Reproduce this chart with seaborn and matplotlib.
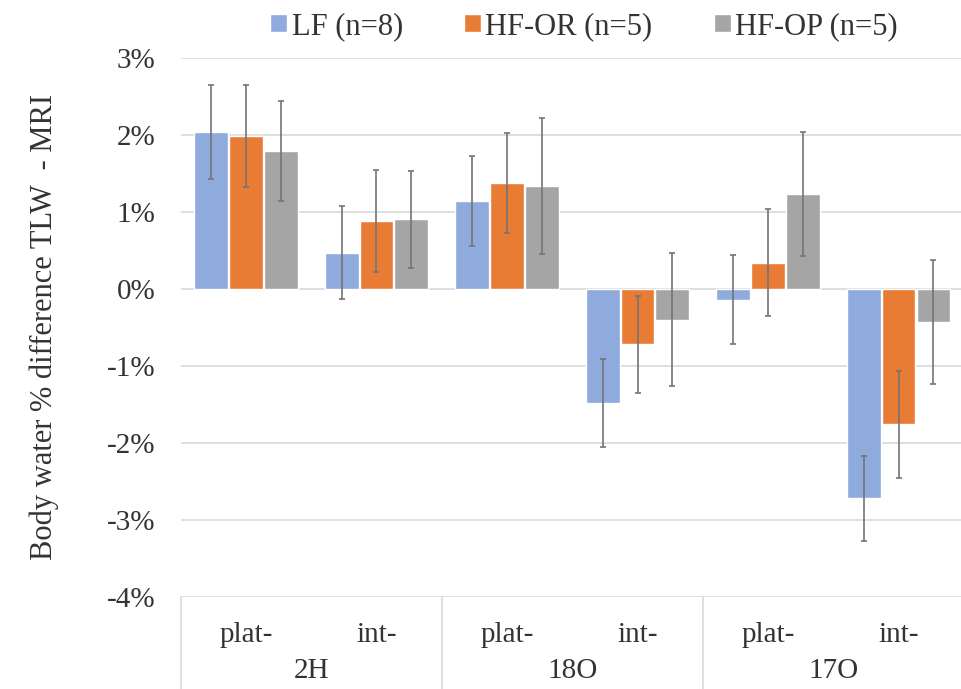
import numpy as np
import pandas as pd
import matplotlib.pyplot as plt
import seaborn as sns

# categories
isotopes = ['2H', '18O', '17O']
methods = ['plat-', 'int-']
groups = ['LF (n=8)', 'HF-OR (n=5)', 'HF-OP (n=5)']

# mean % difference TLW - MRI (order: 2H plat, 2H int, 18O plat, 18O int, 17O plat, 17O int)
lf = [2.03, 0.47, 1.14, -1.48, -0.14, -2.72]
hf_or = [1.98, 0.88, 1.37, -0.72, 0.34, -1.76]
hf_op = [1.79, 0.90, 1.33, -0.40, 1.23, -0.43]

# error bar half-widths
lf_err = [0.61, 0.60, 0.58, 0.57, 0.58, 0.55]
hf_or_err = [0.66, 0.66, 0.65, 0.63, 0.70, 0.69]
hf_op_err = [0.65, 0.63, 0.88, 0.86, 0.81, 0.80]

colors = ['#8FAADC', '#E97C35', '#A5A5A5']

# build long table
cats = [iso + ' ' + m for iso in isotopes for m in methods]
rows = []
for g, vals in zip(groups, [lf, hf_or, hf_op]):
    for c, v in zip(cats, vals):
        rows.append({'cat': c, 'group': g, 'value': v})
df = pd.DataFrame(rows)

sns.set_theme(style='white')
plt.rcParams['font.family'] = ['Liberation Serif', 'DejaVu Serif']
txt = '#333333'

fig = plt.figure(figsize=(9.61, 6.89), dpi=100)
ax = fig.add_axes([0.188, 0.1335, 0.815, 0.783])

sns.barplot(data=df, x='cat', y='value', hue='group', order=cats, hue_order=groups,
            palette=colors, errorbar=None, width=0.8, gap=0.03, saturation=1,
            ax=ax, zorder=2)

# error bars at bar centres
for cont, errs in zip(ax.containers, [lf_err, hf_or_err, hf_op_err]):
    xs = [p.get_x() + p.get_width() / 2 for p in cont.patches]
    ys = [p.get_y() + p.get_height() for p in cont.patches]
    ax.errorbar(xs, ys, yerr=errs, fmt='none', ecolor='#747474', elinewidth=1.2,
                capsize=2.5, capthick=1.2, zorder=3)

ax.set_ylim(-4, 3)
ax.set_xlim(-0.5, 5.5)
ax.set_yticks(range(-4, 4))
ax.set_yticklabels([f'{t}%' for t in range(-4, 4)])
ax.yaxis.grid(True, color='#D9D9D9', lw=1.2)
ax.set_axisbelow(True)
for s in ax.spines.values():
    s.set_visible(False)
ax.tick_params(axis='y', length=0, pad=18, labelsize=21, labelcolor=txt)
ax.tick_params(axis='x', length=0, pad=18, labelsize=21, labelcolor=txt)
ax.set_xticks(range(len(cats)))
ax.set_xticklabels(methods * len(isotopes))
ax.set_xlabel('')

ax.set_ylabel('Body water % difference TLW  - MRI', fontsize=22, color=txt)
ax.yaxis.set_label_coords(-0.155, 0.5)

# group labels and divider lines under the axis
trans = ax.get_xaxis_transform()
for i, iso in enumerate(isotopes):
    ax.text(2 * i + 0.5, -0.138, iso, transform=trans, ha='center', va='center',
            fontsize=21, color=txt)
for xd in [-0.5, 1.5, 3.5, 5.5]:
    ax.plot([xd, xd], [0, -0.18], transform=trans, color='#D9D9D9', lw=1.2, clip_on=False)

sns.move_legend(ax, 'center', bbox_to_anchor=(0.515, 1.058), ncol=3, frameon=False,
                title=None, fontsize=22, handlelength=0.55, handleheight=0.55,
                handletextpad=0.15, columnspacing=2.0, labelcolor=txt)

fig.savefig('out.png', dpi=100)
